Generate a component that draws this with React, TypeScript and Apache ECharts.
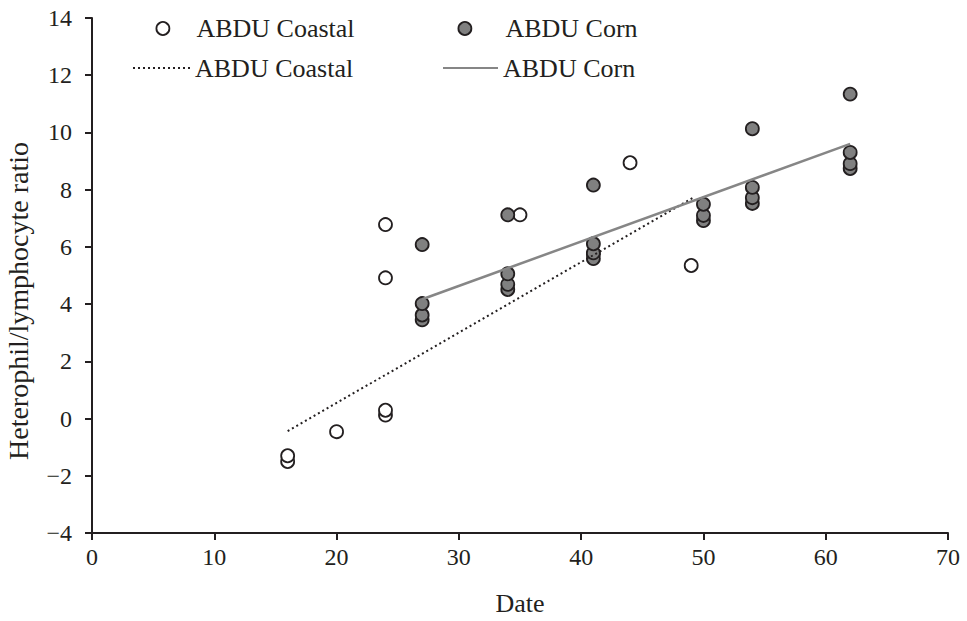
import React, { useEffect, useRef } from "react";
import * as echarts from "echarts";

const coastalX = [16, 16, 20, 24, 24, 24, 24, 35, 41, 44, 49];
const coastalY = [-1.5, -1.3, -0.46, 0.12, 0.29, 4.92, 6.78, 7.12, 5.75, 8.94, 5.35];

const cornX = [27, 27, 27, 27, 34, 34, 34, 34, 41, 41, 41, 41, 50, 50, 50, 54, 54, 54, 54, 62, 62, 62, 62];
const cornY = [3.45, 3.62, 4.02, 6.08, 4.51, 4.69, 5.06, 7.12, 5.59, 5.79, 6.11, 8.16, 6.92, 7.1, 7.49, 7.52, 7.72, 8.08, 10.13, 8.74, 8.91, 9.3, 11.34];

const coastalTrendX = [16, 49.2];
const coastalTrendY = [-0.44, 7.73];
const cornTrendX = [27, 62];
const cornTrendY = [4.17, 9.6];

const xTicks = { min: 0, max: 70, interval: 10 };
const yTicks = { min: -4, max: 14, interval: 2 };

const X_TITLE = "Date";
const Y_TITLE = "Heterophil/lymphocyte ratio";

const SERIES_COASTAL = "ABDU Coastal";
const SERIES_CORN = "ABDU Corn";
const TREND_COASTAL = "ABDU Coastal trend";
const TREND_CORN = "ABDU Corn trend";

const FONT = "'Liberation Serif', 'Times New Roman', serif";
const TEXT_COLOR = "#231f20";

const zip = (xs: number[], ys: number[]) => xs.map((x, i) => [x, ys[i]]);

export default function App() {
  const ref = useRef<HTMLDivElement>(null);
  useEffect(() => {
    if (!ref.current) return;
    const chart = echarts.init(ref.current, undefined, { renderer: "svg" });
    const legendText = { fontFamily: FONT, fontSize: 26, color: TEXT_COLOR };
    const fmt = (n: string) => n.replace(" trend", "");
    const hiddenSymbol = { color: "transparent", borderColor: "transparent", borderWidth: 0, opacity: 0 };
    chart.setOption({
      animation: false,
      backgroundColor: "#ffffff",
      textStyle: { fontFamily: FONT },
      grid: { left: 92, right: 19, top: 18, bottom: 84 },
      legend: [
        {
          data: [SERIES_COASTAL],
          left: 155.5,
          top: 15.5,
          padding: 0,
          itemWidth: 13,
          itemHeight: 13,
          icon: "circle",
          formatter: fmt,
          textStyle: { ...legendText, padding: [0, 0, 0, 22] },
          itemStyle: { color: "#ffffff", borderColor: "#231f20", borderWidth: 1.8 },
        },
        {
          data: [SERIES_CORN],
          left: 457.5,
          top: 15.5,
          padding: 0,
          itemWidth: 13,
          itemHeight: 13,
          icon: "circle",
          formatter: fmt,
          textStyle: { ...legendText, padding: [0, 0, 0, 29] },
          itemStyle: { color: "#808080", borderColor: "#231f20", borderWidth: 1.8 },
        },
        {
          data: [TREND_COASTAL],
          left: 132,
          top: 55,
          padding: 0,
          itemWidth: 57,
          itemHeight: 14,
          formatter: fmt,
          textStyle: legendText,
          itemStyle: hiddenSymbol,
        },
        {
          data: [TREND_CORN],
          left: 442,
          top: 55,
          padding: 0,
          itemWidth: 55,
          itemHeight: 14,
          formatter: fmt,
          textStyle: legendText,
          itemStyle: hiddenSymbol,
        },
      ],
      graphic: [
        {
          type: "text",
          x: 18,
          y: 301,
          rotation: Math.PI / 2,
          silent: true,
          style: {
            text: Y_TITLE,
            fontFamily: FONT,
            fontSize: 28,
            fill: TEXT_COLOR,
            align: "center",
            verticalAlign: "middle",
          },
        },
      ],
      xAxis: {
        type: "value",
        min: xTicks.min,
        max: xTicks.max,
        interval: xTicks.interval,
        name: X_TITLE,
        nameLocation: "middle",
        nameGap: 57,
        nameTextStyle: { fontFamily: FONT, fontSize: 26, color: TEXT_COLOR },
        axisLine: { show: true, onZero: false, lineStyle: { color: "#231f20", width: 2 } },
        axisTick: { show: true, inside: false, length: 7, lineStyle: { color: "#231f20", width: 2 } },
        axisLabel: { fontFamily: FONT, fontSize: 24, color: TEXT_COLOR, margin: 12 },
        splitLine: { show: false },
      },
      yAxis: {
        type: "value",
        min: yTicks.min,
        max: yTicks.max,
        interval: yTicks.interval,
        axisLine: { show: true, onZero: false, lineStyle: { color: "#231f20", width: 2 } },
        axisTick: { show: true, inside: false, length: 7, lineStyle: { color: "#231f20", width: 2 } },
        axisLabel: {
          fontFamily: FONT,
          fontSize: 24,
          color: TEXT_COLOR,
          margin: 20,
          formatter: (v: number) => String(v).replace("-", "\u2212"),
        },
        splitLine: { show: false },
      },
      series: [
        {
          name: SERIES_COASTAL,
          type: "scatter",
          data: zip(coastalX, coastalY),
          symbol: "circle",
          symbolSize: 13,
          itemStyle: { color: "#ffffff", borderColor: "#231f20", borderWidth: 1.8, opacity: 1 },
          z: 2,
        },
        {
          name: SERIES_CORN,
          type: "scatter",
          data: zip(cornX, cornY),
          symbol: "circle",
          symbolSize: 13,
          itemStyle: { color: "#808080", borderColor: "#231f20", borderWidth: 1.8, opacity: 1 },
          z: 3,
        },
        {
          name: TREND_COASTAL,
          type: "line",
          data: zip(coastalTrendX, coastalTrendY),
          symbol: "none",
          showSymbol: false,
          lineStyle: { color: "#231f20", width: 2, type: [2, 3] },
          itemStyle: { color: "#231f20" },
          z: 4,
        },
        {
          name: TREND_CORN,
          type: "line",
          data: zip(cornTrendX, cornTrendY),
          symbol: "none",
          showSymbol: false,
          lineStyle: { color: "#868686", width: 2.5 },
          itemStyle: { color: "#868686" },
          z: 4,
        },
      ],
    });
    return () => chart.dispose();
  }, []);
  return <div ref={ref} style={{ width: 967, height: 621, position: "absolute", left: 0, top: 0 }} />;
}
